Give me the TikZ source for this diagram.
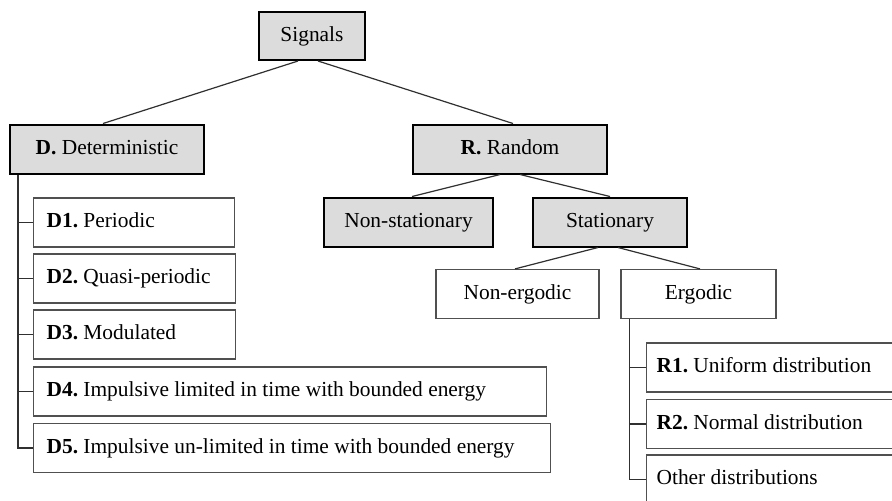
\documentclass[tikz,border=0pt]{standalone}
\usepackage{fontspec}
\setmainfont{Liberation Serif}
\frenchspacing
\definecolor{boxgray}{HTML}{DCDCDC}
\definecolor{framegray}{HTML}{505050}
\definecolor{linegray}{HTML}{303030}

\begin{document}
\begin{tikzpicture}[x=0.5pt,y=-0.5pt,
	every node/.style={font=\fontsize{10.7}{12}\selectfont,text height=7.5pt,text depth=2.3pt,inner sep=0},
	graybox/.style={draw=black,line width=1pt,fill=boxgray,minimum height=24.5pt},
	whitebox/.style={draw=framegray,line width=0.6pt,fill=white,minimum height=24.5pt},
	leafbox/.style={whitebox,anchor=west,align=flush left,inner xsep=6.5pt},
	link/.style={draw=linegray,line width=0.6pt}]
	\clip (0,0) rectangle (892,500);
	\node[graybox,minimum width=53pt,minimum height=24pt] (s) at (312,36) {Signals};
	\node[graybox,minimum width=97pt] (d) at (107,149) {\textbf{D.} Deterministic};
	\node[graybox,minimum width=97pt] (r) at (510,149) {\textbf{R.} Random};
	\node[graybox,minimum width=84.5pt] (ns) at (408.5,222) {Non-stationary};
	\node[graybox,minimum width=77pt] (st) at (610,222) {Stationary};
	\node[whitebox,minimum width=81.5pt] (ne) at (517.5,294) {Non-ergodic};
	\node[whitebox,minimum width=77.5pt] (er) at (698.5,294) {Ergodic};
	\node[leafbox,text width=87.5pt] (d1) at (33,222.5) {\textbf{D1.} Periodic};
	\node[leafbox,text width=88pt] (d2) at (33,278.5) {\textbf{D2.} Quasi-periodic};
	\node[leafbox,text width=88pt] (d3) at (33,334.5) {\textbf{D3.} Modulated};
	\node[leafbox,text width=243.5pt] (d4) at (33,391.5) {\textbf{D4.} Impulsive limited in time with bounded energy};
	\node[leafbox,text width=245.5pt] (d5) at (33,448) {\textbf{D5.} Impulsive un-limited in time with bounded energy};
	\node[leafbox,inner xsep=5pt,text width=125pt] (r1) at (646,367.5) {\textbf{R1.} Uniform distribution};
	\node[leafbox,inner xsep=5pt,text width=125pt] (r2) at (646,424) {\textbf{R2.} Normal distribution};
	\node[leafbox,inner xsep=5pt,text width=125pt] (ro) at (646,479.5) {Other distributions};
	\draw[link] ([xshift=-7pt]s.south) -- ([xshift=-2pt]d.north);
	\draw[link] ([xshift=3pt]s.south) -- ([xshift=1.5pt]r.north);
	\draw[link] ([xshift=-5pt]r.south) -- ([xshift=1.75pt]ns.north);
	\draw[link] ([xshift=5pt]r.south) -- (st.north);
	\draw[link] ([xshift=-6pt]st.south) -- ([xshift=-1.25pt]ne.north);
	\draw[link] ([xshift=4pt]st.south) -- ([xshift=0.75pt]er.north);
	\coordinate (dt) at ([xshift=4.5pt]d.south west);
	\coordinate (et) at ([xshift=4.5pt]er.south west);
	\draw[link] (dt) |- (d5.west);
	\foreach \n in {d1,d2,d3,d4}
		\draw[link] (\n.west) -- (\n.west -| dt);
	\draw[link] (et) |- (ro.west);
	\foreach \n in {r1,r2}
		\draw[link] (\n.west) -- (\n.west -| et);
\end{tikzpicture}
\end{document}
